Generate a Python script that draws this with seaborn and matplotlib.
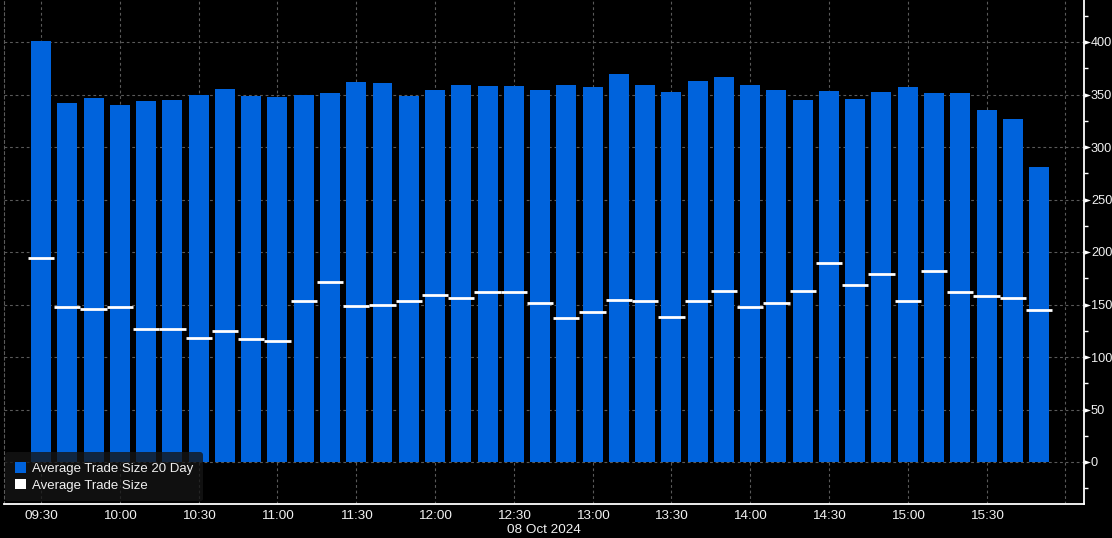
import numpy as np
import matplotlib
matplotlib.use("Agg")
import matplotlib.pyplot as plt
from matplotlib.patches import Patch
import seaborn as sns

# ---- data ----
times = ["09:30", "09:40", "09:50", "10:00", "10:10", "10:20", "10:30", "10:40", "10:50",
         "11:00", "11:10", "11:20", "11:30", "11:40", "11:50", "12:00", "12:10", "12:20",
         "12:30", "12:40", "12:50", "13:00", "13:10", "13:20", "13:30", "13:40", "13:50",
         "14:00", "14:10", "14:20", "14:30", "14:40", "14:50", "15:00", "15:10", "15:20",
         "15:30", "15:40", "15:50"]
avg_size_20d = [401, 342, 347, 340, 344, 345, 350, 355, 349, 348, 350, 351, 362, 361, 349,
                354, 359, 358, 358, 354, 359, 357, 370, 359, 352, 363, 367, 359, 354, 345,
                353, 346, 352, 357, 351, 351, 335, 327, 281]
avg_size = [194, 148, 146, 148, 127, 127, 118, 125, 117, 115, 153, 171, 149, 150, 153,
            159, 156, 162, 162, 151, 137, 143, 154, 153, 138, 153, 163, 148, 151, 163,
            190, 169, 179, 153, 182, 162, 158, 156, 145]
xtick_labels = ["09:30", "10:00", "10:30", "11:00", "11:30", "12:00", "12:30",
                "13:00", "13:30", "14:00", "14:30", "15:00", "15:30", ""]
ytick_values = [0, 50, 100, 150, 200, 250, 300, 350, 400]
date_label = "08 Oct 2024"
series_names = ["Average Trade Size 20 Day", "Average Trade Size"]

BLUE = "#0063dc"
TXT = "#f0f0f0"
GRID = "#5a5a5a"

sns.set_style("dark")
plt.rcParams["font.family"] = ["Liberation Sans", "DejaVu Sans"]

fig = plt.figure(figsize=(11.12, 5.38), dpi=100, facecolor="black")
ax = fig.add_axes([4.3 / 1112, 34 / 538, 1079.4 / 1112, 504 / 538])
ax.set_facecolor("black")

sns.barplot(x=times, y=avg_size_20d, color=BLUE, saturation=1, width=0.76,
            linewidth=0, ax=ax, zorder=2)

xs = np.arange(len(times))
ax.hlines(avg_size, xs - 0.5, xs + 0.5, color="white", lw=2.0, zorder=3)

ax.set_xlim(-1.40, 39.70)
ax.set_ylim(-40, 440)

# x axis
ax.set_xticks(np.arange(0, 40, 3))
ax.set_xticklabels(xtick_labels, fontsize=9.7, color=TXT)
ax.set_xticks(list(np.arange(1.5, 38, 3)) + [39], minor=True)
ax.tick_params(axis="x", which="major", length=0, pad=4)
ax.tick_params(axis="x", which="minor", length=4, width=1, color="white", direction="out")
ax.set_xlabel(date_label, fontsize=9.7, color=TXT, labelpad=2)

# y axis on right
ax.yaxis.tick_right()
ax.set_yticks(ytick_values)
ax.set_yticklabels([str(v) for v in ytick_values], fontsize=9.2, color=TXT)
ax.set_yticks(np.arange(-25, 440, 50), minor=True)
ax.tick_params(axis="y", which="major", length=0, pad=5.2)
ax.tick_params(axis="y", which="minor", length=3, width=1, color="white", direction="out")
ax.set_ylabel("")

# triangle markers at major y ticks
tri = [(0, -0.55), (0, 0.55), (1.6, 0), (0, -0.55)]
ax.scatter([1.0] * len(ytick_values), ytick_values, marker=tri, s=85,
           color="white", linewidths=0, transform=ax.get_yaxis_transform(),
           clip_on=False, zorder=6)

# grid
ax.grid(True, which="major", axis="both", color=GRID, linestyle=(0, (2.5, 2.5)),
        lw=0.8, zorder=0)
ax.set_axisbelow(True)

# spines
ax.spines["top"].set_visible(False)
ax.spines["right"].set_color("white")
ax.spines["right"].set_linewidth(1.3)
ax.spines["bottom"].set_color("white")
ax.spines["bottom"].set_linewidth(1.3)
ax.spines["left"].set_color(GRID)
ax.spines["left"].set_linestyle((0, (2.5, 2.5)))
ax.spines["left"].set_linewidth(0.8)

# legend
handles = [Patch(facecolor=BLUE, edgecolor="none", label=series_names[0]),
           Patch(facecolor="white", edgecolor="none", label=series_names[1])]
leg = ax.legend(handles=handles, loc="lower left", bbox_to_anchor=(0.001, 0.005),
                borderaxespad=0, fontsize=9.5, frameon=True, fancybox=True,
                handlelength=0.85, handleheight=0.85, handletextpad=0.4,
                labelspacing=0.28, borderpad=0.75)
frame = leg.get_frame()
frame.set_facecolor("#151515")
frame.set_alpha(0.78)
frame.set_edgecolor("none")
for t in leg.get_texts():
    t.set_color(TXT)

fig.savefig("out.png", dpi=100, facecolor="black")
